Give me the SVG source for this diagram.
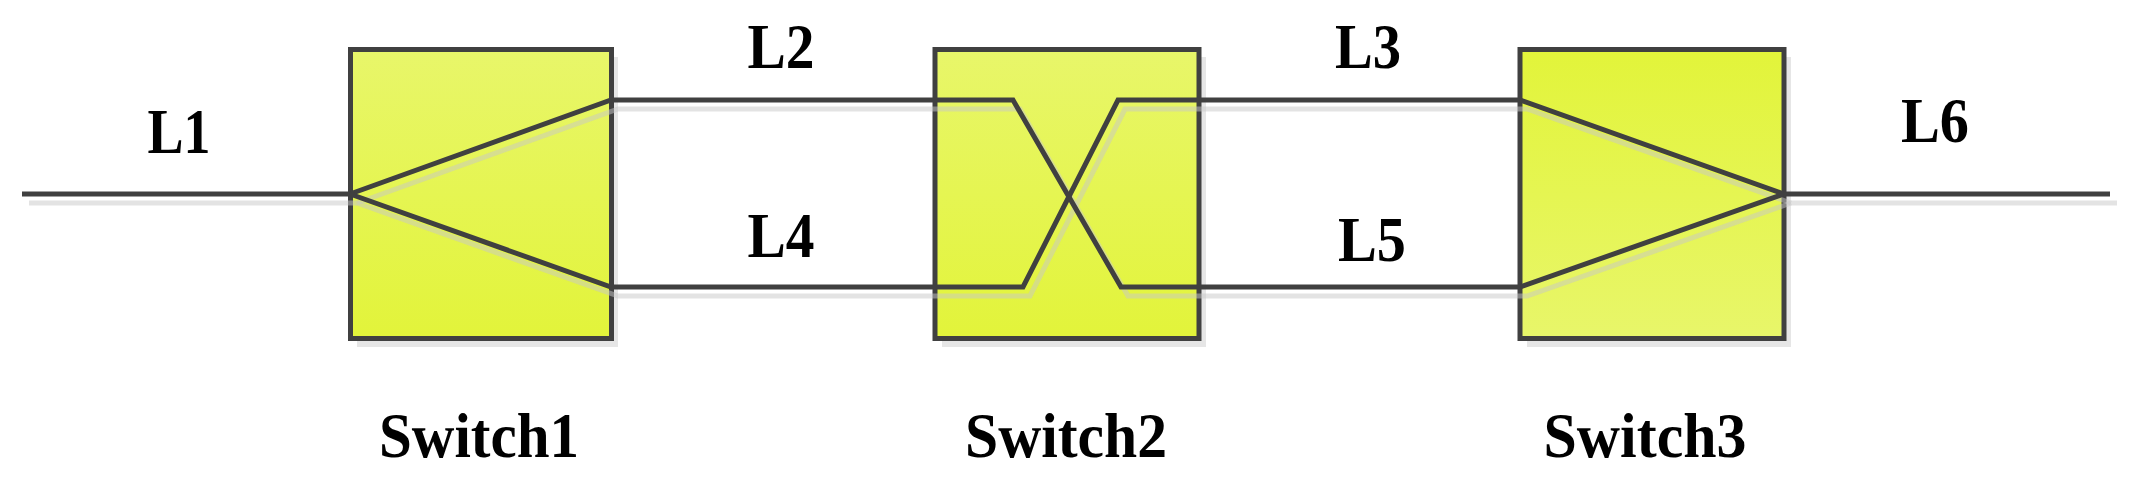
<svg xmlns="http://www.w3.org/2000/svg" xmlns:xlink="http://www.w3.org/1999/xlink" width="2139" height="478" viewBox="0 0 2139 478">
  <style>
    .box { stroke: #404040; stroke-width: 5; }
    .boxshadow { fill: #e6e6e6; }
    .wire { fill: none; stroke: #404040; stroke-width: 5; stroke-linejoin: miter; }
    .wireshadow { fill: none; stroke: #c8c8c8; stroke-opacity: 0.5; stroke-width: 5; }
    .lbl { font-family: "Liberation Serif", "Times New Roman", serif; font-weight: bold; font-size: 63px; fill: #000; text-anchor: middle; }
  </style>
  <defs>
    <linearGradient id="gDown" x1="0" y1="0" x2="0" y2="1">
      <stop offset="0" stop-color="#e8f66a"/>
      <stop offset="1" stop-color="#e2f43a"/>
    </linearGradient>
    <linearGradient id="gUp" x1="0" y1="0" x2="0" y2="1">
      <stop offset="0" stop-color="#e2f43a"/>
      <stop offset="1" stop-color="#e8f66a"/>
    </linearGradient>
    <path id="pL1" d="M 22 194 L 350 194"/>
    <path id="pA" d="M 350 194 L 611 100 L 1013 100 L 1121 287 L 1520 287 L 1784 194"/>
    <path id="pB" d="M 350 194 L 611 287 L 1023 287 L 1118 100 L 1520 100 L 1784 194"/>
    <path id="pL6" d="M 1784 194 L 2110 194"/>
  </defs>

  <rect class="boxshadow" x="357" y="57" width="261" height="290"/>
  <rect class="boxshadow" x="942" y="57" width="264" height="290"/>
  <rect class="boxshadow" x="1527" y="57" width="264" height="290"/>

  <g id="switch1">
    <rect class="box" x="350.5" y="49.5" width="261" height="289" fill="url(#gDown)"/>
    <text class="lbl" x="479" y="457" textLength="200" lengthAdjust="spacingAndGlyphs">Switch1</text>
  </g>
  <g id="switch2">
    <rect class="box" x="935" y="49.5" width="264" height="289" fill="url(#gDown)"/>
    <text class="lbl" x="1066" y="457" textLength="202" lengthAdjust="spacingAndGlyphs">Switch2</text>
  </g>
  <g id="switch3">
    <rect class="box" x="1520" y="49.5" width="264" height="289" fill="url(#gUp)"/>
    <text class="lbl" x="1645" y="457" textLength="203" lengthAdjust="spacingAndGlyphs">Switch3</text>
  </g>

  <g id="connectors">
    <g transform="translate(7,9)">
      <use xlink:href="#pL1" class="wireshadow"/>
      <use xlink:href="#pA" class="wireshadow"/>
      <use xlink:href="#pB" class="wireshadow"/>
      <use xlink:href="#pL6" class="wireshadow"/>
    </g>
    <use xlink:href="#pL1" class="wire"/>
    <use xlink:href="#pA" class="wire"/>
    <use xlink:href="#pB" class="wire"/>
    <use xlink:href="#pL6" class="wire"/>
    <text class="lbl" x="179" y="153" textLength="63" lengthAdjust="spacingAndGlyphs">L1</text>
    <text class="lbl" x="781" y="68" textLength="67" lengthAdjust="spacingAndGlyphs">L2</text>
    <text class="lbl" x="1368" y="68" textLength="66" lengthAdjust="spacingAndGlyphs">L3</text>
    <text class="lbl" x="781" y="257" textLength="67" lengthAdjust="spacingAndGlyphs">L4</text>
    <text class="lbl" x="1372" y="261" textLength="68" lengthAdjust="spacingAndGlyphs">L5</text>
    <text class="lbl" x="1935" y="142" textLength="68" lengthAdjust="spacingAndGlyphs">L6</text>
  </g>
</svg>
